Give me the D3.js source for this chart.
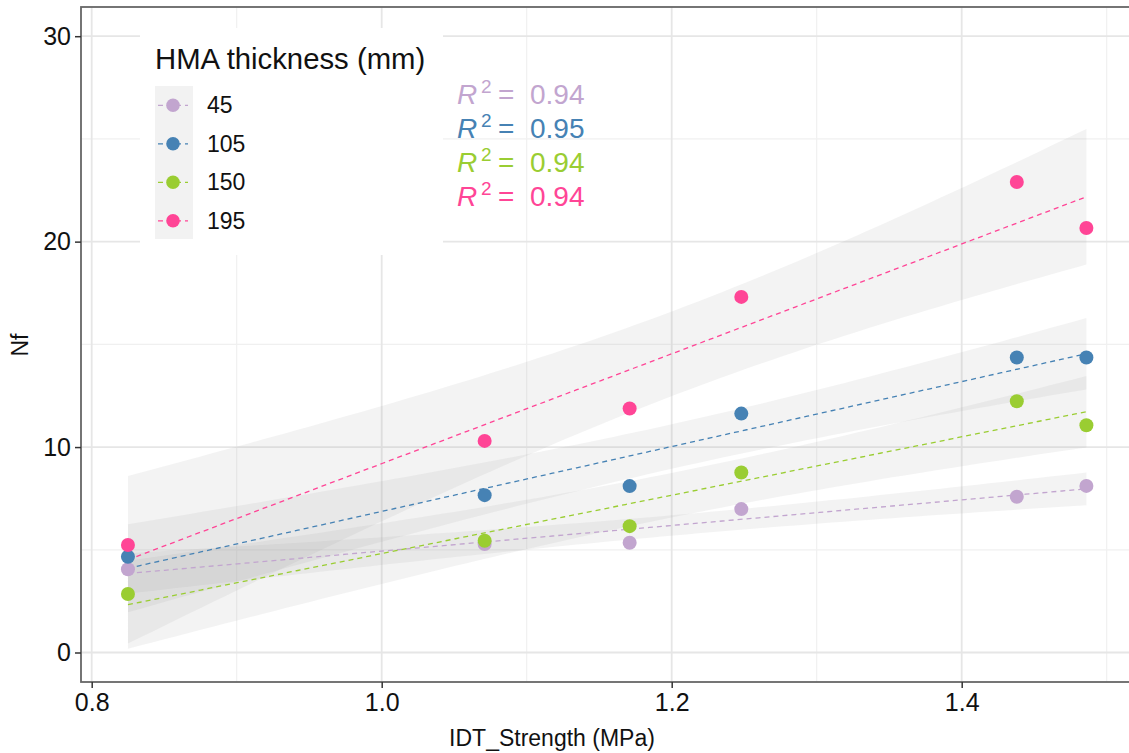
<!DOCTYPE html>
<html><head><meta charset="utf-8">
<script src="https://cdn.jsdelivr.net/npm/d3@7"></script>
<style>
html,body{margin:0;padding:0;background:#fff;}
svg{display:block;font-family:"Liberation Sans",Arial,sans-serif;}
</style></head>
<body>
<svg id="chart" width="1129" height="753"></svg>
<script>
// ---- data ----
const idtStrength = [0.825, 1.071, 1.171, 1.248, 1.438, 1.486];
const thicknessLabels = ["45", "105", "150", "195"];
const nf45  = [4.05, 5.28, 5.34, 6.98, 7.58, 8.11];
const nf105 = [4.66, 7.66, 8.10, 11.63, 14.36, 14.36];
const nf150 = [2.85, 5.44, 6.15, 8.76, 12.23, 11.06];
const nf195 = [5.23, 10.30, 11.88, 17.31, 22.90, 20.66];
const r2Labels = ["0.94", "0.95", "0.94", "0.94"];
const xTicks = [0.8, 1.0, 1.2, 1.4];
const xMinor = [0.9, 1.1, 1.3, 1.5];
const yTicks = [0, 10, 20, 30];
const yMinor = [5, 15, 25];
const colors = ["#C2A5CF", "#4682B4", "#9ACD32", "#FF4596"];
const T975_DF4 = 2.776;

const seriesValues = [nf45, nf105, nf150, nf195];

const svg = d3.select("#chart");
const P = {left: 81, right: 1140, top: 7, bottom: 682};
const x = d3.scaleLinear().domain([0.8, 1.5]).range([91.7, 1106.7]);
const y = d3.scaleLinear().domain([0, 30]).range([652.5, 36.2]);

// grid
const grid = svg.append("g");
grid.selectAll(".vmin").data(xMinor).join("line")
  .attr("x1", d => x(d)).attr("x2", d => x(d)).attr("y1", P.top).attr("y2", P.bottom)
  .attr("stroke", "#f0f0f0").attr("stroke-width", 1.2);
grid.selectAll(".hmin").data(yMinor).join("line")
  .attr("y1", d => y(d)).attr("y2", d => y(d)).attr("x1", P.left).attr("x2", P.right)
  .attr("stroke", "#f0f0f0").attr("stroke-width", 1.2);
grid.selectAll(".vmaj").data(xTicks).join("line")
  .attr("x1", d => x(d)).attr("x2", d => x(d)).attr("y1", P.top).attr("y2", P.bottom)
  .attr("stroke", "#e6e6e6").attr("stroke-width", 1.8);
grid.selectAll(".hmaj").data(yTicks).join("line")
  .attr("y1", d => y(d)).attr("y2", d => y(d)).attr("x1", P.left).attr("x2", P.right)
  .attr("stroke", "#e6e6e6").attr("stroke-width", 1.8);

// regression fits (lm with 95% confidence band)
function fit(xs, ys) {
  const n = xs.length;
  const mx = d3.mean(xs), my = d3.mean(ys);
  let sxx = 0, sxy = 0;
  for (let i = 0; i < n; i++) { sxx += (xs[i]-mx)**2; sxy += (xs[i]-mx)*(ys[i]-my); }
  const b = sxy / sxx, a = my - b*mx;
  let sse = 0;
  for (let i = 0; i < n; i++) sse += (ys[i] - (a + b*xs[i]))**2;
  const s = Math.sqrt(sse / (n - 2));
  const x0 = d3.min(xs), x1 = d3.max(xs);
  return d3.range(80).map(k => {
    const xv = x0 + (x1 - x0) * k / 79;
    const yv = a + b*xv;
    const se = s * Math.sqrt(1/n + (xv-mx)**2 / sxx);
    return {x: xv, y: yv, lo: yv - T975_DF4*se, hi: yv + T975_DF4*se};
  });
}
const fits = seriesValues.map(v => fit(idtStrength, v));

const bandG = svg.append("g");
fits.forEach(pts => {
  bandG.append("path").datum(pts)
    .attr("d", d3.area().x(d => x(d.x)).y0(d => y(d.lo)).y1(d => y(d.hi)))
    .attr("fill", "#999").attr("fill-opacity", 0.12);
});
const lineG = svg.append("g");
fits.forEach((pts, i) => {
  lineG.append("path").datum(pts)
    .attr("d", d3.line().x(d => x(d.x)).y(d => y(d.y)))
    .attr("fill", "none").attr("stroke", colors[i]).attr("stroke-width", 1.3)
    .attr("stroke-dasharray", "5,4");
});
const ptG = svg.append("g");
seriesValues.forEach((vals, i) => {
  ptG.selectAll(null).data(vals).join("circle")
    .attr("cx", (d, j) => x(idtStrength[j])).attr("cy", d => y(d))
    .attr("r", 7).attr("fill", colors[i]);
});

// panel border
svg.append("rect").attr("x", P.left).attr("y", P.top)
  .attr("width", P.right - P.left).attr("height", P.bottom - P.top)
  .attr("fill", "none").attr("stroke", "#666").attr("stroke-width", 1.8);

// axes
const yAxis = svg.append("g").attr("transform", `translate(${P.left},0)`)
  .call(d3.axisLeft(y).tickValues(yTicks).tickSize(6).tickPadding(4).tickFormat(d3.format("d")));
const xAxis = svg.append("g").attr("transform", `translate(0,${P.bottom})`)
  .call(d3.axisBottom(x).tickValues(xTicks).tickSize(6).tickPadding(5).tickFormat(d3.format(".1f")));
[yAxis, xAxis].forEach(g => {
  g.select(".domain").remove();
  g.selectAll(".tick line").attr("stroke", "#333").attr("stroke-width", 1.5);
  g.selectAll(".tick text").attr("fill", "#111").style("font-size", "25px")
    .style("font-family", '"Liberation Sans",Arial,sans-serif');
});

// axis titles
svg.append("text").attr("x", 552).attr("y", 746).attr("text-anchor", "middle")
  .style("font-size", "23px").attr("fill", "#111").text("IDT_Strength (MPa)");
svg.append("text").attr("transform", "translate(28,345) rotate(-90)").attr("text-anchor", "middle")
  .style("font-size", "23px").attr("fill", "#111").text("Nf");

// legend
const lg = svg.append("g");
lg.append("rect").attr("x", 140).attr("y", 28).attr("width", 303).attr("height", 227).attr("fill", "#fff");
lg.append("text").attr("x", 155).attr("y", 69).style("font-size", "29.3px").attr("fill", "#111")
  .text("HMA thickness (mm)");
lg.append("rect").attr("x", 155).attr("y", 86).attr("width", 38).attr("height", 153).attr("fill", "#f2f2f2");
thicknessLabels.forEach((lab, i) => {
  const cy = 105.3 + i * 38.5;
  lg.append("line").attr("x1", 158).attr("x2", 188).attr("y1", cy).attr("y2", cy)
    .attr("stroke", colors[i]).attr("stroke-width", 1.3).attr("stroke-dasharray", "5,4");
  lg.append("circle").attr("cx", 173).attr("cy", cy).attr("r", 6.8).attr("fill", colors[i]);
  lg.append("text").attr("x", 207).attr("y", cy + 8).style("font-size", "23px").attr("fill", "#111").text(lab);
});

// R^2 labels
r2Labels.forEach((v, i) => {
  const by = 104 + i * 34;
  const g = svg.append("g").attr("fill", colors[i]);
  g.append("text").attr("x", 457).attr("y", by).style("font-size", "28px").style("font-style", "italic").text("R");
  g.append("text").attr("x", 481).attr("y", by - 11).style("font-size", "19px").text("2");
  g.append("text").attr("x", 498).attr("y", by).style("font-size", "28px").text("=");
  g.append("text").attr("x", 530).attr("y", by).style("font-size", "28px").text(v);
});
</script>
</body></html>
